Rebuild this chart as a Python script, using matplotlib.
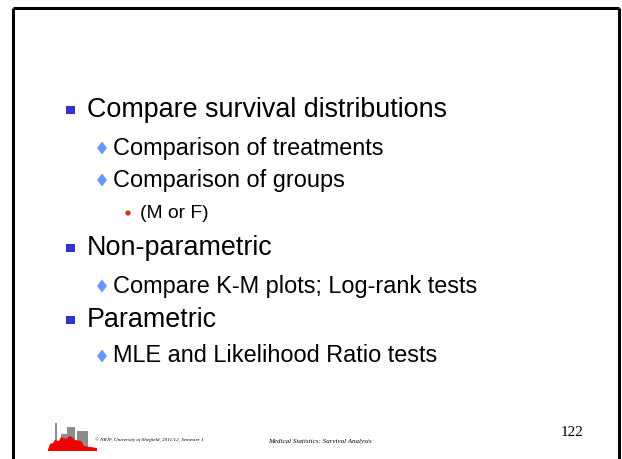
import matplotlib
matplotlib.use("Agg")
import matplotlib.pyplot as plt
from matplotlib.patches import Rectangle, Polygon, Circle

# slide content
BULLET_TEXTS = [
    "Compare survival distributions",
    "Comparison of treatments",
    "Comparison of groups",
    "(M or F)",
    "Non-parametric",
    "Compare K-M plots; Log-rank tests",
    "Parametric",
    "MLE and Likelihood Ratio tests",
]
BULLET_LEVELS = [0, 1, 1, 2, 0, 1, 0, 1]
BULLET_ROWS = [110, 148, 180, 213, 248, 286, 320, 356]

FOOTER_LEFT = "\u00a9 NRJF, University of Sheffield, 2011/12, Semester 1"
FOOTER_MID = "Medical Statistics: Survival Analysis"
PAGE_NUMBER = "122"

# per-level styling: marker x, text x, font size, marker colour
LEVEL_STYLE = {
    0: dict(mx=70.5, tx=87, size=19.4, color="#3333CC"),
    1: dict(mx=102, tx=113, size=16.9, color="#6699FF"),
    2: dict(mx=128, tx=140, size=13.9, color="#CC3300"),
}

W, H = 622, 459
fig = plt.figure(figsize=(W / 100, H / 100), dpi=100)
ax = fig.add_axes([0, 0, 1, 1])
ax.set_xlim(0, W)
ax.set_ylim(H, 0)
ax.axis("off")

# slide border (bottom edge cut off)
ax.plot([13, 13], [H + 5, 8], color="black", lw=2.2, solid_capstyle="butt")
ax.plot([13, 619], [8, 8], color="black", lw=2.2, solid_capstyle="butt")
ax.plot([619, 619], [8, H + 5], color="black", lw=2.2, solid_capstyle="butt")

for text, level, y in zip(BULLET_TEXTS, BULLET_LEVELS, BULLET_ROWS):
    st = LEVEL_STYLE[level]
    if level == 0:
        ax.add_patch(Rectangle((st["mx"] - 4.3, y - 4.3), 8.6, 8.6, color=st["color"], lw=0))
    elif level == 1:
        ax.add_patch(Polygon([(st["mx"], y - 6.5), (st["mx"] + 5, y), (st["mx"], y + 6.5),
                              (st["mx"] - 5, y)], closed=True, color=st["color"], lw=0))
    else:
        ax.add_patch(Circle((st["mx"], y), 2.6, color=st["color"], lw=0))
    ax.text(st["tx"], y, text, fontsize=st["size"], family="Liberation Sans",
            va="center", ha="left", color="black")

# logo: grey buildings with red skyline in front
for x0, y0, w, h in [(55, 423, 2, 27), (61, 434, 6, 16), (67, 427, 8, 23), (77, 431, 11, 19)]:
    ax.add_patch(Rectangle((x0, y0), w, h, color="#8c8c8c", lw=0))
ax.add_patch(Polygon([(48, 450), (50, 444), (53, 443), (55, 440), (59, 441), (61, 437),
                      (66, 439), (70, 436), (75, 440), (81, 441), (84, 446), (97, 448),
                      (97, 450)], closed=True, color="#ee0000", lw=0))
ax.add_patch(Rectangle((48, 449), 49, 1.5, color="#ee0000", lw=0))

ax.text(95, 440, FOOTER_LEFT, fontsize=3.7, family="Liberation Serif", style="italic",
        va="center", ha="left")
ax.text(268, 441, FOOTER_MID, fontsize=5.0, family="Liberation Serif", style="italic",
        va="center", ha="left")
ax.text(561, 432, PAGE_NUMBER, fontsize=11, family="Liberation Serif",
        va="center", ha="left")

fig.savefig("out.png", dpi=100)
